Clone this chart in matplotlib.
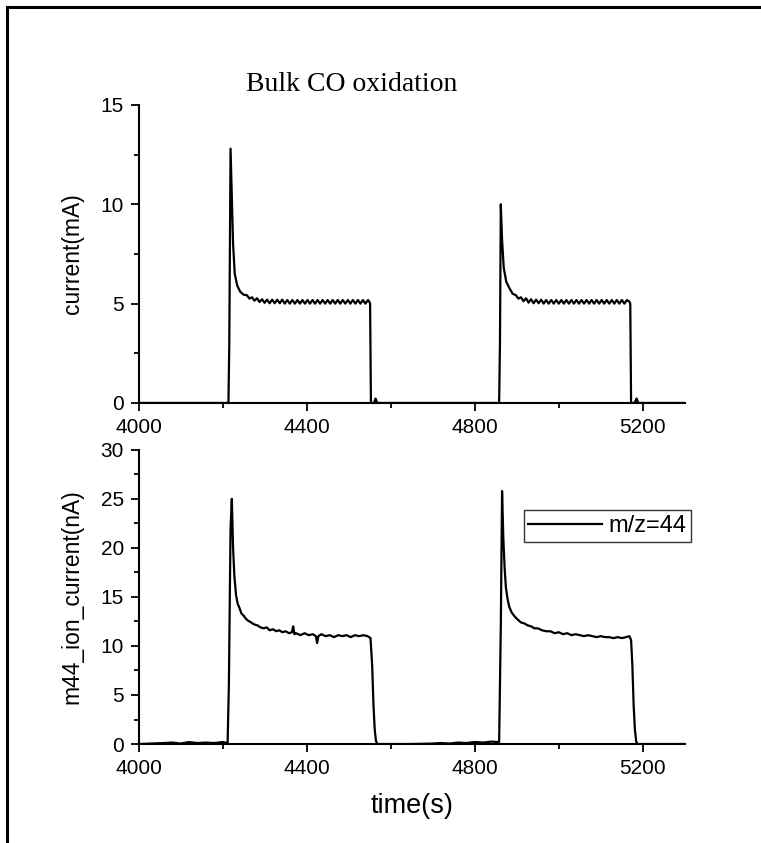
import matplotlib
matplotlib.use('Agg')
from matplotlib import pyplot as plt
from matplotlib.lines import Line2D
from matplotlib.ticker import MultipleLocator

# current (mA) vs time (s)
cur_t = [4000, 4214, 4216, 4219, 4222, 4225, 4229, 4235, 4242, 4250, 4258,
         4264, 4270, 4276, 4282, 4288, 4294, 4300, 4306, 4312, 4318, 4324,
         4330, 4336, 4342, 4348, 4354, 4360, 4366, 4372, 4378, 4384, 4390,
         4396, 4402, 4408, 4414, 4420, 4426, 4432, 4438, 4444, 4450, 4456,
         4462, 4468, 4474, 4480, 4486, 4492, 4498, 4504, 4510, 4516, 4522,
         4528, 4534, 4540, 4546, 4549, 4551, 4553, 4560, 4564, 4568, 4575,
         4858, 4860, 4862, 4865, 4869, 4875, 4882, 4890, 4898, 4904, 4910,
         4916, 4922, 4928, 4934, 4940, 4946, 4952, 4958, 4964, 4970, 4976,
         4982, 4988, 4994, 5000, 5006, 5012, 5018, 5024, 5030, 5036, 5042,
         5048, 5054, 5060, 5066, 5072, 5078, 5084, 5090, 5096, 5102, 5108,
         5114, 5120, 5126, 5132, 5138, 5144, 5150, 5156, 5162, 5168, 5170,
         5172, 5174, 5180, 5185, 5189, 5195, 5300]
cur_v = [0.0, 0.0, 3.0, 12.8, 10.5, 8.0, 6.5, 5.9, 5.6, 5.45, 5.42,
         5.25, 5.32, 5.15, 5.27, 5.08, 5.22, 5.04, 5.2, 5.02, 5.2, 5.02,
         5.2, 5.02, 5.2, 5.0, 5.18, 5.0, 5.18, 5.0, 5.18, 5.0, 5.18,
         5.0, 5.18, 5.0, 5.18, 5.0, 5.18, 5.0, 5.18, 5.0, 5.18, 5.0,
         5.18, 5.0, 5.18, 5.0, 5.18, 5.0, 5.18, 5.0, 5.18, 5.0, 5.18,
         5.0, 5.18, 5.0, 5.18, 5.1, 5.0, 0.0, 0.0, 0.22, 0.0, 0.0,
         0.0, 3.0, 10.0, 8.2, 6.8, 6.1, 5.8, 5.5, 5.42, 5.25, 5.32,
         5.12, 5.27, 5.05, 5.22, 5.02, 5.2, 5.02, 5.2, 5.0, 5.18, 5.0,
         5.18, 5.0, 5.18, 5.0, 5.18, 5.0, 5.18, 5.0, 5.18, 5.0, 5.18,
         5.0, 5.18, 5.0, 5.18, 5.0, 5.18, 5.0, 5.18, 5.0, 5.18, 5.0,
         5.18, 5.0, 5.18, 5.0, 5.18, 5.0, 5.18, 5.0, 5.18, 5.1, 5.0,
         0.0, 0.0, 0.0, 0.22, 0.0, 0.0, 0.0]

# m/z=44 ion current (nA) vs time (s)
ion_t = [4000, 4030, 4060, 4080, 4100, 4120, 4140, 4160, 4180, 4200, 4212,
         4215, 4219, 4222, 4225, 4228, 4232, 4236, 4240, 4245, 4250, 4255,
         4260, 4268, 4275, 4283, 4290, 4298, 4305, 4312, 4320, 4328, 4335,
         4342, 4350, 4358, 4365, 4368, 4371, 4375, 4385, 4395, 4405, 4415,
         4422, 4425, 4428, 4435, 4445, 4455, 4465, 4475, 4485, 4495, 4505,
         4515, 4525, 4535, 4545, 4552, 4556, 4559, 4562, 4565, 4569, 4600,
         4650, 4700, 4720, 4740, 4760, 4780, 4800, 4820, 4840, 4855, 4858,
         4862, 4865, 4868, 4871, 4874, 4878, 4882, 4888, 4895, 4902, 4910,
         4918, 4926, 4934, 4942, 4950, 4960, 4970, 4980, 4990, 5000, 5010,
         5020, 5030, 5040, 5050, 5060, 5070, 5080, 5090, 5100, 5110, 5120,
         5130, 5140, 5150, 5160, 5168, 5172, 5175, 5178, 5181, 5184, 5187,
         5300]
ion_v = [0.0, 0.05, 0.1, 0.15, 0.05, 0.2, 0.1, 0.15, 0.1, 0.2, 0.1,
         6.0, 22.0, 25.0, 20.0, 17.2, 15.2, 14.3, 13.9, 13.3, 13.1, 12.8,
         12.6, 12.4, 12.2, 12.1, 11.9, 11.8, 11.9, 11.6, 11.7, 11.5, 11.6,
         11.4, 11.5, 11.3, 11.4, 12.0, 11.2, 11.3, 11.1, 11.3, 11.1, 11.2,
         11.0, 10.3, 11.0, 11.2, 11.0, 11.1, 10.9, 11.1, 11.0, 11.1, 10.9,
         11.1, 11.0, 11.1, 11.0, 10.8, 8.0, 4.0, 1.5, 0.3, 0.0, 0.0,
         0.0, 0.05, 0.1, 0.05, 0.15, 0.1, 0.2, 0.15, 0.25, 0.2, 0.2,
         12.0, 25.8, 21.0, 18.0, 16.0, 14.8, 14.0, 13.4, 13.0, 12.7, 12.4,
         12.3, 12.1, 12.0, 11.8, 11.8, 11.6, 11.5, 11.5, 11.3, 11.4, 11.2,
         11.3, 11.1, 11.2, 11.1, 11.0, 11.1, 11.0, 10.9, 11.0, 10.9, 10.9,
         10.8, 10.9, 10.8, 10.9, 11.0, 10.6, 8.0, 4.0, 1.5, 0.3, 0.0,
         0.0]

x_ticks = [4000, 4400, 4800, 5200]

fig = plt.figure(figsize=(7.61, 8.43), dpi=100)
plt.rcParams['font.family'] = ['Liberation Sans', 'DejaVu Sans']

# page frame (top and left edges only)
fig.add_artist(Line2D([0.009, 1.0], [0.992, 0.992], color='black', lw=2.2))
fig.add_artist(Line2D([0.009, 0.009], [0.0, 0.992], color='black', lw=2.2))

ax1 = fig.add_axes([0.182, 0.522, 0.718, 0.3535])
ax2 = fig.add_axes([0.182, 0.1174, 0.718, 0.349])

ax1.plot(cur_t, cur_v, color='black', lw=1.6)
ax2.plot(ion_t, ion_v, color='black', lw=1.6, label='m/z=44')

for ax in (ax1, ax2):
  ax.spines['top'].set_visible(False)
  ax.spines['right'].set_visible(False)
  ax.spines['left'].set_linewidth(1.5)
  ax.spines['bottom'].set_linewidth(1.5)
  ax.set_xlim(4000, 5300)
  ax.set_xticks(x_ticks)
  ax.xaxis.set_minor_locator(MultipleLocator(200))
  ax.yaxis.set_minor_locator(MultipleLocator(2.5))
  ax.tick_params(which='major', direction='out', length=5.5, width=1.3,
                 labelsize=15, pad=5)
  ax.tick_params(which='minor', direction='out', length=3.5, width=1.3)
  ax.patch.set_alpha(0)

ax1.set_ylim(0, 15)
ax1.set_yticks([0, 5, 10, 15])
ax1.set_ylabel('current(mA)', fontsize=16.5)
ax1.yaxis.set_label_coords(-0.1, 0.5)

ax2.set_ylim(0, 30)
ax2.set_yticks([0, 5, 10, 15, 20, 25, 30])
ax2.set_ylabel('m44_ion_current(nA)', fontsize=16.5)
ax2.yaxis.set_label_coords(-0.1, 0.5)
ax2.set_xlabel('time(s)', fontsize=19.5, labelpad=11)

leg = ax2.legend(loc='upper left', bbox_to_anchor=(0.705, 0.795), fontsize=17,
                 frameon=True, fancybox=False, handlelength=3.1,
                 borderpad=0.2, handletextpad=0.3, borderaxespad=0)
leg.get_frame().set_edgecolor('black')
leg.get_frame().set_linewidth(1.0)

fig.text(0.462, 0.9, 'Bulk CO oxidation', family='Liberation Serif',
         fontsize=20, ha='center', va='center')

fig.savefig('out.png', dpi=100)
plt.close(fig)
